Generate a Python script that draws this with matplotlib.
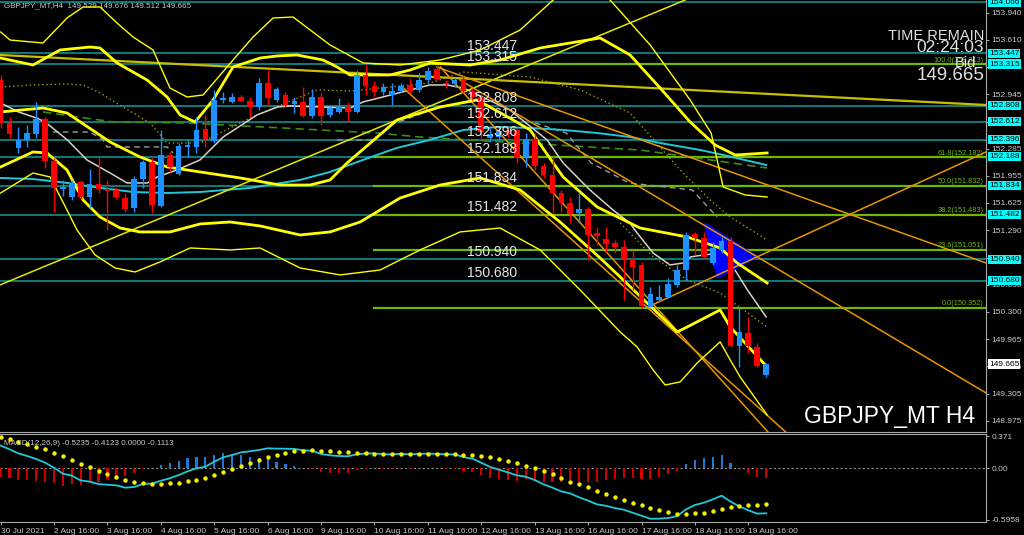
import numpy as np
import matplotlib.pyplot as plt
from matplotlib.transforms import blended_transform_factory

# ---- candle data (H4 bars, 30 Jul 16:00 -> 20 Aug 00:00) ----
opens = [153.121, 152.594, 152.290, 152.391, 152.464, 152.643, 152.139, 151.798, 151.694, 151.876,
         151.701, 151.856, 151.791, 151.783, 151.689, 151.560, 151.913, 152.127, 151.592, 152.208,
         151.977, 152.309, 152.309, 152.521, 152.382, 152.878, 152.857, 152.918, 152.869, 152.789,
         153.088, 152.878, 152.938, 152.829, 152.857, 152.683, 152.910, 152.695, 152.735, 152.796,
         152.735, 153.182, 153.048, 152.978, 152.938, 152.991, 153.060, 153.000, 153.121, 153.251,
         153.088, 153.072, 153.129, 152.991, 152.918, 152.415, 152.427, 152.500, 152.513, 152.188,
         152.403, 152.075, 151.965, 151.742, 151.628, 151.507, 151.548, 151.256, 151.183, 151.134,
         151.093, 150.940, 150.870, 150.363, 150.444, 150.485, 150.627, 150.809, 151.244, 151.202,
         150.891, 151.053, 151.166, 149.889, 150.047, 149.876, 149.529]
highs = [153.180, 152.674, 152.553, 152.573, 152.857, 152.674, 152.172, 151.904, 151.904, 151.904,
         152.034, 152.181, 151.904, 151.819, 151.746, 151.953, 152.148, 152.188, 152.513, 152.249,
         152.351, 152.391, 152.674, 152.695, 153.000, 152.978, 152.966, 152.938, 152.918, 153.141,
         153.242, 153.039, 152.978, 152.918, 153.039, 153.008, 152.959, 152.817, 152.898, 152.857,
         153.242, 153.313, 153.112, 153.081, 153.081, 153.081, 153.141, 153.202, 153.283, 153.303,
         153.121, 153.145, 153.169, 153.024, 152.950, 152.537, 152.561, 152.549, 152.537, 152.476,
         152.472, 152.111, 152.188, 151.783, 151.698, 151.762, 151.580, 151.336, 151.336, 151.174,
         151.174, 151.053, 150.907, 150.606, 150.627, 150.712, 150.870, 151.275, 151.275, 151.275,
         151.154, 151.215, 151.215, 150.344, 150.241, 149.918, 149.676]
lows = [152.537, 152.412, 152.229, 152.302, 152.412, 152.047, 151.519, 151.710, 151.661, 151.673,
        151.560, 151.742, 151.296, 151.673, 151.515, 151.519, 151.803, 151.499, 151.580, 152.005,
        151.965, 152.188, 152.229, 152.309, 152.351, 152.837, 152.837, 152.853, 152.674, 152.756,
        152.817, 152.857, 152.796, 152.716, 152.674, 152.655, 152.573, 152.674, 152.716, 152.614,
        152.716, 152.938, 152.918, 152.938, 152.817, 152.978, 152.959, 152.978, 153.100, 153.121,
        153.024, 153.036, 152.963, 152.878, 152.415, 152.367, 152.391, 152.427, 152.111, 152.066,
        152.026, 151.929, 151.499, 151.515, 151.381, 151.378, 150.931, 151.114, 151.013, 151.016,
        150.444, 150.566, 150.352, 150.359, 150.420, 150.469, 150.603, 150.688, 150.992, 150.952,
        150.870, 151.013, 149.876, 149.633, 149.796, 149.633, 149.512]
closes = [152.594, 152.464, 152.391, 152.472, 152.643, 152.139, 151.803, 151.815, 151.864, 151.701,
          151.852, 151.791, 151.774, 151.701, 151.552, 151.916, 152.127, 151.600, 152.208, 152.059,
          152.318, 152.330, 152.513, 152.399, 152.878, 152.905, 152.918, 152.869, 152.789, 153.081,
          152.898, 153.008, 152.817, 152.869, 152.686, 152.910, 152.686, 152.777, 152.796, 152.735,
          153.182, 153.048, 152.978, 153.039, 152.991, 153.048, 152.991, 153.121, 153.234, 153.129,
          153.069, 153.121, 152.991, 152.918, 152.488, 152.464, 152.500, 152.464, 152.168, 152.403,
          152.075, 151.965, 151.742, 151.628, 151.491, 151.548, 151.235, 151.227, 151.126, 151.093,
          150.940, 150.850, 150.370, 150.514, 150.485, 150.636, 150.809, 151.235, 151.202, 150.971,
          151.073, 151.166, 149.889, 150.052, 149.889, 149.645, 149.665]

# ---- moving averages (sampled at bar index) ----
sma_bars = [0, 2, 4, 5, 7.5, 9.7, 12.3, 14.2, 16.5, 17.6, 19.8, 22.4, 25, 28.8, 31.1, 32.5, 36.2,
            39.3, 40.7, 43.8, 48.2, 50.2, 52, 57.2, 61.4, 63.2, 66.2, 68.8, 70.7, 71.5, 73.3, 75.2,
            76.7, 77.5, 78.9, 81.2, 82, 83.9, 86]
sma_vals = [152.841, 152.732, 152.659, 152.610, 152.391, 152.148, 151.989, 151.868, 151.868, 151.941,
            152.026, 152.148, 152.427, 152.695, 152.792, 152.805, 152.792, 152.780, 152.853, 152.938,
            153.060, 153.060, 153.023, 152.756, 152.391, 152.111, 151.783, 151.539, 151.381, 151.260,
            151.016, 150.870, 150.895, 150.968, 150.992, 151.016, 150.895, 150.566, 150.238]
long_ma_bars = [0, 3.6, 7.5, 11.2, 14.9, 18.7, 22.4, 28, 33.6, 37, 40.7, 44.5, 48.2, 52, 55.8, 59.5,
                63.2, 67, 70.7, 74.1, 78.6, 81.2, 86]
long_ma_vals = [151.929, 151.916, 151.868, 151.807, 151.758, 151.746, 151.758, 151.807, 151.904,
                152.002, 152.148, 152.294, 152.391, 152.513, 152.549, 152.537, 152.513, 152.476,
                152.427, 152.354, 152.269, 152.208, 152.087]

# ---- band curves (bar index, price) ----
thin_upper_bars = [0, 1.06, 4.76, 7.46, 9.26, 11.17, 13.08, 14.88, 17.12, 19.03, 20.94, 22.74, 26.11,
                   28.36, 30.61, 32.85, 37.01, 38.47, 40.72, 44.88, 49.37, 53.87, 58.36, 62.07, 65.1,
                   68.47, 72.97, 77.46, 79.82, 81.17, 83.64, 86.11]
thin_upper_vals = [153.705, 153.607, 153.571, 153.875, 154.009, 154.009, 153.814, 153.644, 153.486,
                   153.023, 152.914, 152.938, 153.364, 153.644, 153.875, 153.887, 153.547, 153.461,
                   153.328, 153.303, 153.364, 153.486, 153.729, 154.094, 154.337, 154.094, 153.547,
                   152.878, 152.476, 151.819, 151.722, 151.697]
thick_upper_bars = [0, 3.64, 6.67, 10.04, 11.17, 13.08, 16.45, 18.7, 20.16, 21.84, 23.87, 26.11, 29.15,
                    31.06, 33.3, 36.22, 37.8, 39.26, 41.51, 43.75, 46.0, 48.25, 52.74, 56.11, 60.61,
                    67.35, 70.72, 74.09, 77.46, 80.27, 82.52, 86.11]
thick_upper_vals = [153.388, 153.303, 153.486, 153.522, 153.510, 153.328, 153.121, 152.914, 152.695,
                    152.610, 152.878, 153.279, 153.388, 153.413, 153.425, 153.364, 153.279, 153.182,
                    153.182, 153.182, 153.242, 153.328, 153.303, 153.364, 153.510, 153.632, 153.425,
                    153.023, 152.610, 152.330, 152.208, 152.233]
mid_band_bars = [0, 4.76, 7.46, 12.29, 15.66, 18.7, 22.4, 26.9, 31.39, 34.76, 37.01, 38.92, 44.54,
                 49.37, 53.53, 57.58, 59.48, 63.19, 67.01, 71.84, 77.13, 80.83, 82.74, 86.11]
mid_band_vals = [152.732, 152.780, 152.719, 152.367, 152.184, 152.063, 152.002, 151.929, 151.843,
                 151.843, 151.904, 152.111, 152.634, 152.792, 152.878, 152.634, 152.513, 151.941,
                 151.576, 151.320, 151.211, 151.077, 150.895, 150.651]
thick_lower_bars = [0, 3.64, 5.21, 7.46, 9.26, 11.17, 13.42, 15.66, 19.03, 22.4, 25.78, 29.15, 33.64,
                    37.01, 40.38, 44.88, 49.37, 53.87, 58.36, 62.85, 67.35, 69.6, 76.0, 77.13, 80.83,
                    81.96, 86.11]
thick_lower_vals = [152.063, 152.245, 152.233, 152.026, 151.661, 151.454, 151.320, 151.272, 151.272,
                    151.369, 151.393, 151.345, 151.235, 151.272, 151.393, 151.685, 151.843, 151.929,
                    151.783, 151.393, 150.955, 150.724, 150.055, 150.116, 150.323, 150.116, 149.629]
thin_lower_bars = [0, 3.64, 5.55, 7.46, 8.58, 10.61, 12.85, 15.1, 17.91, 21.28, 25.78, 29.15, 33.64,
                   38.15, 42.63, 47.12, 51.62, 56.11, 60.61, 65.1, 69.6, 71.5, 73.3, 74.65, 76.34,
                   78.25, 80.83, 81.96, 83.08, 86.11]
thin_lower_vals = [151.746, 151.989, 151.941, 151.539, 151.296, 150.992, 150.834, 150.785, 150.907,
                   151.077, 151.053, 151.077, 150.834, 150.749, 150.809, 151.053, 151.272, 151.320,
                   151.053, 150.566, 150.055, 149.873, 149.593, 149.410, 149.447, 149.678, 149.934,
                   149.715, 149.508, 149.046]

# ---- dotted / dashed helper lines ----
dot_upper_bars = [0, 3.64, 7.46, 9.26, 11.17, 13.75, 16.79, 18.7, 22.4, 28.02, 35.55, 39.26, 48.25,
                  51.96, 59.48, 65.1, 70.72, 76.34, 79.71, 81.96, 86.11]
dot_upper_vals = [153.036, 153.060, 153.072, 153.060, 152.963, 152.792, 152.598, 152.354, 152.354,
                  152.659, 153.000, 152.987, 153.084, 153.218, 153.157, 153.000, 152.719, 152.026,
                  151.661, 151.454, 151.174]
dot_lower_bars = [69.6, 73.3, 77.13, 80.83, 86.11]
dot_lower_vals = [151.381, 150.968, 150.688, 150.530, 150.116]
dash_green_bars = [4.76, 12.63, 20.94, 42.29, 47.12, 71.84, 86.11]
dash_green_vals = [152.732, 152.610, 152.598, 152.476, 152.427, 152.269, 152.050]
dash_gray_segments = [([5.89, 10.04, 11.51, 11.96, 18.7, 19.37],
                       [152.488, 152.488, 152.391, 152.306, 152.306, 152.233]),
                      ([37.8, 41.51, 42.97, 43.75, 47.46],
                       [152.391, 152.391, 152.476, 152.573, 152.719]),
                      ([60.04, 63.53, 66.34, 70.61, 77.69, 80.49],
                       [152.598, 152.476, 152.111, 151.868, 151.783, 151.454])]

# ---- horizontal levels ----
levels = [154.066, 153.447, 153.315, 152.808, 152.612, 152.396, 152.188, 151.834, 151.482, 150.940, 150.680]
level_labels = [153.447, 153.315, 152.808, 152.612, 152.396, 152.188, 151.834, 151.482, 150.940, 150.680]
fib_high = 153.313
fib_low = 150.352
fib_ratios = [100.0, 61.8, 50.0, 38.2, 23.6, 0.0]
fib_start = 42

# ---- trend lines: (bar0, price0, bar1, price1) ----
orange_lines = [(49.0, 153.279, 110.7, 150.895),
                (51.6, 153.121, 110.7, 149.313),
                (49.4, 153.279, 86.2, 148.839),
                (45.1, 153.036, 88.2, 148.838),
                (72.7, 150.359, 110.7, 152.245)]
yellow_lines = [(-0.07, 150.627, 76.9, 154.094)]
olive_line = (-0.07, 153.425, 110.7, 152.817)
tri_bars = [79.1, 85.1, 80.5]
tri_prices = [151.381, 150.967, 150.712]

# ---- MACD(12,26,9) ----
signal = [0.364, 0.337, 0.309, 0.279, 0.251, 0.221, 0.181, 0.143, 0.097, 0.053,
          0.012, -0.028, -0.063, -0.101, -0.136, -0.159, -0.171, -0.183, -0.183, -0.174,
          -0.167, -0.151, -0.136, -0.109, -0.078, -0.047, -0.012, 0.030, 0.062, 0.097,
          0.128, 0.151, 0.178, 0.198, 0.205, 0.209, 0.205, 0.201, 0.193, 0.190,
          0.181, 0.178, 0.170, 0.166, 0.166, 0.166, 0.166, 0.166, 0.166, 0.166,
          0.166, 0.166, 0.158, 0.151, 0.143, 0.131, 0.112, 0.088, 0.062, 0.030,
          0.000, -0.031, -0.070, -0.113, -0.156, -0.183, -0.221, -0.264, -0.299, -0.334,
          -0.365, -0.400, -0.427, -0.462, -0.488, -0.508, -0.528, -0.528, -0.523, -0.516,
          -0.497, -0.473, -0.453, -0.442, -0.430, -0.430, -0.412]
hist = [-0.100, -0.116, -0.136, -0.136, -0.143, -0.155, -0.174, -0.205, -0.182, -0.194,
        -0.167, -0.155, -0.128, -0.097, -0.089, -0.058, -0.010, 0.005, 0.039, 0.058,
        0.089, 0.116, 0.136, 0.128, 0.155, 0.174, 0.167, 0.155, 0.136, 0.116,
        0.105, 0.078, 0.050, 0.027, 0.005, -0.005, -0.039, -0.050, -0.050, -0.050,
        -0.019, -0.006, 0.004, -0.004, -0.003, 0.003, -0.004, 0.002, 0.005, 0.002,
        -0.003, -0.004, -0.027, -0.039, -0.078, -0.116, -0.128, -0.136, -0.143, -0.128,
        -0.136, -0.155, -0.155, -0.155, -0.136, -0.155, -0.155, -0.155, -0.136, -0.128,
        -0.116, -0.116, -0.124, -0.124, -0.097, -0.070, -0.027, 0.050, 0.097, 0.116,
        0.136, 0.155, 0.066, 0.000, -0.058, -0.097, -0.111]

tick_bars = [0, 6, 12, 18, 24, 30, 36, 42, 48, 54, 60, 66, 72, 78, 84]
tick_labels = ['30 Jul 2021', '2 Aug 16:00', '3 Aug 16:00', '4 Aug 16:00', '5 Aug 16:00',
               '6 Aug 16:00', '9 Aug 16:00', '10 Aug 16:00', '11 Aug 16:00', '12 Aug 16:00',
               '13 Aug 16:00', '16 Aug 16:00', '17 Aug 16:00', '18 Aug 16:00', '19 Aug 16:00']
price_ticks = [153.940, 153.610, 153.280, 152.945, 152.615, 152.285, 151.955, 151.625, 151.290,
               150.960, 150.630, 150.300, 149.965, 149.635, 149.305, 148.975]

BULL = '#1E90FF'
BEAR = '#FF0000'
TEAL = '#129C9C'
FIB = '#6DB800'
ORANGE = '#E69500'
YEL = '#FFFF00'
AXC = '#A8A8A8'
TXT = '#C8C8C8'
SANS = 'Liberation Sans'
NARROW = ['Liberation Sans Narrow', 'Liberation Sans']

W, H = 1024, 535
fig = plt.figure(figsize=(W / 100, H / 100), dpi=100, facecolor='black')
ax = fig.add_axes([0, 1 - 432 / H, 986 / W, 432 / H], facecolor='black')
ax2 = fig.add_axes([0, 1 - 522 / H, 986 / W, 88 / H], facecolor='black')
XMIN, XMAX = -0.07, 110.7

# ---- main panel ----
for lv in levels:
    ax.axhline(lv, color=TEAL, lw=1.1, zorder=1)
for r in fib_ratios:
    lv = fib_low + (fib_high - fib_low) * r / 100
    ax.plot([fib_start, XMAX], [lv, lv], color=FIB, lw=1.6, zorder=1.2)
    ax.text(XMAX - 0.3, lv + 0.008, '%.1f(%.3f)' % (r, lv), color=FIB, fontsize=5.3,
            family=SANS, ha='right', va='bottom', zorder=6)

ax.plot(dot_upper_bars, dot_upper_vals, color='#9A9A10', lw=1.0, ls=(0, (1, 2)), zorder=1.5)
ax.plot(dot_lower_bars, dot_lower_vals, color='#9A9A10', lw=1.0, ls=(0, (1, 2)), zorder=1.5)
ax.plot(dash_green_bars, dash_green_vals, color='#3C8C14', lw=1.2, ls=(0, (5, 3)), zorder=1.5)
for sb, sv in dash_gray_segments:
    ax.plot(sb, sv, color='#9A9A9A', lw=1.0, ls=(0, (4, 3)), zorder=1.5)

ax.plot(long_ma_bars, long_ma_vals, color='#20C8D8', lw=1.4, zorder=2)
ax.plot(sma_bars, sma_vals, color='#D8D0C4', lw=1.1, zorder=2)

# bollinger style bands
ax.plot(thin_upper_bars, thin_upper_vals, color=YEL, lw=1.0, zorder=2.3)
ax.plot(thick_upper_bars, thick_upper_vals, color=YEL, lw=2.0, zorder=2.3)
ax.plot(mid_band_bars, mid_band_vals, color=YEL, lw=2.0, zorder=2.3)
ax.plot(thick_lower_bars, thick_lower_vals, color=YEL, lw=2.0, zorder=2.3)
ax.plot(thin_lower_bars, thin_lower_vals, color=YEL, lw=1.0, zorder=2.3)

for b0, p0, b1, p1 in yellow_lines:
    ax.plot([b0, b1], [p0, p1], color='#E6E600', lw=1.1, zorder=2)
ax.plot([olive_line[0], olive_line[2]], [olive_line[1], olive_line[3]], color='#C8BE00', lw=1.6, zorder=2)
for b0, p0, b1, p1 in orange_lines:
    ax.plot([b0, b1], [p0, p1], color=ORANGE, lw=1.1, zorder=2.2)
ax.fill(tri_bars, tri_prices, color='#0000FF', zorder=2.1)

x = np.arange(len(opens))
o = np.array(opens); c = np.array(closes)
cols = [BULL if cc >= oo else BEAR for oo, cc in zip(o, c)]
ax.vlines(x, lows, highs, colors=cols, lw=1, zorder=3)
ax.bar(x, np.maximum(np.abs(c - o), 0.006), bottom=np.minimum(o, c), width=0.64,
       color=cols, zorder=3.1, linewidth=0)

for lv in level_labels:
    ax.text(52.4, lv + 0.004, '%.3f' % lv, color='#E6E6E6', fontsize=10,
            family=SANS, ha='left', va='bottom', zorder=7)

ax.set_xlim(XMIN, XMAX)
ax.set_ylim(148.838, 154.094)
ax.yaxis.tick_right()
ax.set_yticks(price_ticks)
ax.set_yticklabels(['%.3f' % p for p in price_ticks], family=SANS)
ax.tick_params(axis='y', colors=AXC, labelcolor=TXT, labelsize=6, length=2.5, pad=1.5)
ax.set_xticks([])
for s in ['left', 'top']:
    ax.spines[s].set_visible(False)
for s in ['right', 'bottom']:
    ax.spines[s].set_color(AXC)

# price boxes on the axis
tr = blended_transform_factory(ax.transAxes, ax.transData)
for lv in levels:
    ax.text(1.003, lv, '%.3f' % lv, transform=tr, fontsize=6, family=SANS, color='black',
            ha='left', va='center', clip_on=False, zorder=8,
            bbox=dict(facecolor='#00FFFF', edgecolor='none', pad=0.8))
ax.text(1.003, closes[-1], '%.3f' % closes[-1], transform=tr, fontsize=6, family=SANS,
        color='black', ha='left', va='center', clip_on=False, zorder=8,
        bbox=dict(facecolor='white', edgecolor='none', pad=0.8))

# header / corner texts
fig.text(4 / W, 1 - 6 / H, 'GBPJPY_MT,H4  %.3f %.3f %.3f %.3f' % (opens[-1], highs[-1], lows[-1], closes[-1]),
         color=TXT, fontsize=5.8, family=SANS, ha='left', va='center')
fig.text(984 / W, 1 - 36 / H, 'TIME REMAIN', color='#E0E0E0', fontsize=10.5,
         family=NARROW, ha='right', va='center')
fig.text(984 / W, 1 - 48 / H, '02:24:03', color='#E0E0E0', fontsize=12.5,
         family=NARROW, ha='right', va='center')
fig.text(976 / W, 1 - 63 / H, 'Bid', color='#E0E0E0', fontsize=10.5,
         family=NARROW, ha='right', va='center')
fig.text(984 / W, 1 - 76 / H, '149.665', color='#E0E0E0', fontsize=13.5,
         family=NARROW, ha='right', va='center')
fig.text(975 / W, 1 - 416 / H, 'GBPJPY_MT H4', color='white', fontsize=16.5,
         family=NARROW, ha='right', va='center')

# ---- MACD panel ----
sig = np.array(signal); hs = np.array(hist)
main = sig + hs
hcols = ['#1E78D8' if v > 0 else '#D00000' for v in hs]
ax2.bar(x, hs, width=0.24, color=hcols, linewidth=0, zorder=2)
ax2.axhline(0, color='#909090', lw=0.8, ls=(0, (2, 2)), zorder=1)
ax2.plot(x, main, color='#20C8D8', lw=1.3, zorder=3)
ax2.plot(x, sig, ls='none', marker='o', ms=3.2, color='#F0F000', mec='none', zorder=4)
ax2.text(0.004, 0.93, 'MACD(12,26,9) -0.5235 -0.4123 0.0000 -0.1113', transform=ax2.transAxes,
         color=TXT, fontsize=5.8, family=SANS, ha='left', va='top')
ax2.set_xlim(XMIN, XMAX)
ax2.set_ylim(-0.624, 0.399)
ax2.yaxis.tick_right()
ax2.set_yticks([0.371, 0.0, -0.5958])
ax2.set_yticklabels(['0.371', '0.00', '-0.5958'], family=SANS)
ax2.set_xticks(tick_bars)
ax2.set_xticklabels(tick_labels, ha='left', family=SANS)
ax2.tick_params(axis='both', colors=AXC, labelcolor=TXT, labelsize=6, length=2.5, pad=1.5)
ax2.spines['left'].set_visible(False)
for s in ['right', 'top', 'bottom']:
    ax2.spines[s].set_color(AXC)

fig.savefig('out.png', dpi=100, facecolor='black')
